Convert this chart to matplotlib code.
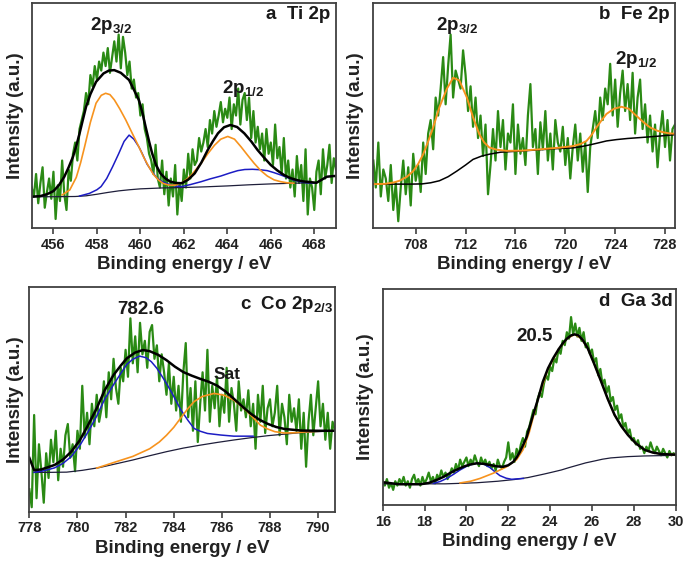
"""
XPS spectra of the four elements (Ti 2p, Fe 2p, Co 2p, Ga 3d)
raw counts in green, fitted components, Shirley background and envelope
"""

import numpy as np
import matplotlib
matplotlib.use("Agg")
import matplotlib.pyplot as plt

plt.rcParams["font.family"] = ["Liberation Sans", "DejaVu Sans"]
plt.rcParams["font.weight"] = "bold"
plt.rcParams["mathtext.fontset"] = "custom"
plt.rcParams["mathtext.rm"] = "Liberation Sans:bold"
plt.rcParams["mathtext.it"] = "Liberation Sans:bold"
plt.rcParams["mathtext.bf"] = "Liberation Sans:bold"

GREEN = "#2a8a14"
ORANGE = "#f7931e"
BLUE = "#1c1cc4"
NAVY = "#1e1e3a"
FRAME = "#404040"

# ---------------- a: Ti 2p ----------------
TI_START, TI_STEP = 455.0, 0.1
TI_COUNTS = [18, 14, 24, 11, 20, 27, 9, 16, 22, 13,
             25, 4, 19, 12, 30, 15, 8, 26, 21, 33,
             38, 30, 44, 48, 52, 60, 55, 68, 63, 72,
             66, 74, 70, 78, 72, 80, 69, 76, 83, 74,
             86, 71, 85, 78, 68, 74, 62, 66, 58, 60,
             50, 55, 44, 40, 33, 30, 24, 37, 22, 18,
             30, 15, 25, 10, 22, 14, 28, 6, 20, 12,
             26, 18, 33, 22, 35, 28, 30, 40, 34, 38,
             44, 36, 48, 42, 52, 45, 50, 56, 47, 53,
             49, 58, 44, 55, 50, 62, 46, 57, 60, 48,
             58, 40, 52, 38, 45, 35, 42, 30, 44, 33,
             38, 28, 46, 31, 36, 24, 40, 22, 30, 18,
             26, 14, 32, 20, 28, 12, 35, 6, 22, 18,
             8, 25, 30, 15, 35, 22, 28, 37, 20, 31,
             26]
TI_BG_E = [455.0, 456.0, 457.0, 457.5, 458.0, 458.5, 459.0, 459.5, 460.0,
           461.0, 462.0, 463.0, 464.0, 465.0, 466.0, 467.0, 468.1]
TI_BG_V = [13.9, 13.9, 14.0, 14.3, 15.0, 15.8, 16.5, 17.0, 17.4,
           17.8, 18.0, 18.3, 18.7, 19.2, 19.6, 19.9, 20.1]
TI_OR_E = [456.4, 456.75, 457.05, 457.25, 457.43, 457.7, 457.96, 458.2, 458.4,
           458.6, 458.8, 459.05, 459.33, 459.63, 459.93, 460.15, 460.39, 460.6,
           460.84, 461.05, 461.3, 461.6, 461.9, 462.15, 462.35, 462.6, 462.8,
           463.1, 463.41, 463.7, 464.02, 464.33, 464.63, 464.93, 465.23, 465.53,
           465.84, 466.15, 466.45, 466.75, 467.06]
TI_OR_V = [14.7, 16.9, 22.5, 29.0, 36.0, 47.0, 55.5, 59.0, 59.9,
           59.3, 57.0, 53.0, 48.0, 42.0, 36.1, 31.5, 27.2, 23.8,
           21.3, 19.8, 19.1, 19.0, 20.1, 21.8, 23.6, 26.5, 28.8,
           33.0, 36.8, 39.5, 40.7, 39.5, 36.1, 32.4, 28.8, 25.6,
           23.1, 21.4, 20.6, 20.1, 19.9]
TI_BL_E = [457.2, 457.66, 458.0, 458.19, 458.45, 458.72, 459.0, 459.25, 459.48,
           459.7, 459.93, 460.08, 460.3, 460.54, 460.75, 461.0, 461.3, 461.6,
           461.9, 462.3, 462.8, 463.2, 463.7, 464.1, 464.48, 464.8, 465.16,
           465.5, 465.84, 466.15, 466.45, 466.75, 467.06, 467.36, 467.67, 468.0]
TI_BL_V = [14.2, 15.4, 17.0, 18.4, 22.0, 27.2, 33.0, 38.5, 41.3,
           39.5, 36.1, 33.2, 28.5, 25.0, 22.3, 20.6, 19.4, 18.7,
           18.4, 19.3, 20.6, 21.8, 23.1, 24.4, 25.5, 26.0, 26.1,
           25.9, 25.5, 24.6, 23.6, 22.5, 21.3, 20.6, 20.1, 20.0]
TI_ENV_E = [455.0, 455.4, 455.7, 456.0, 456.25, 456.5, 456.7, 456.9, 457.05,
            457.2, 457.35, 457.5, 457.7, 457.96, 458.3, 458.55, 458.8, 459.1,
            459.48, 459.7, 459.93, 460.1, 460.24, 460.4, 460.54, 460.72, 460.92,
            461.15, 461.38, 461.65, 461.9, 462.2, 462.5, 462.8, 463.1, 463.35,
            463.57, 463.85, 464.14, 464.45, 464.78, 465.1, 465.39, 465.7, 466.0,
            466.3, 466.6, 466.9, 467.2, 467.5, 467.8, 468.1, 468.35, 468.58,
            468.9, 469.0]
TI_ENV_V = [13.9, 14.2, 15.0, 16.4, 19.0, 22.8, 27.0, 31.7, 36.5,
            42.0, 48.0, 53.9, 59.5, 65.0, 68.7, 70.0, 70.2, 69.0,
            65.8, 61.5, 56.9, 51.0, 45.0, 38.5, 33.2, 28.0, 24.3,
            22.0, 20.6, 20.0, 19.9, 21.5, 24.3, 29.0, 34.7, 38.8,
            42.1, 44.8, 45.8, 44.9, 42.1, 38.5, 34.7, 31.2, 28.0,
            25.6, 23.6, 22.2, 21.3, 20.7, 20.4, 20.1, 21.5, 22.8,
            23.1, 23.1]

# ---------------- b: Fe 2p ----------------
FE_START, FE_STEP = 704.6, 0.2
FE_COUNTS = [30, 18, 38, 14, 26, 22, 12, 28, 8, 20,
             3, 18, 30, 15, 27, 10, 33, 21, 28, 16,
             38, 24, 42, 48, 35, 58, 50, 62, 76, 55,
             72, 86, 58, 70, 66, 62, 79, 68, 52, 63,
             45, 58, 40, 50, 32, 46, 15, 28, 44, 30,
             52, 36, 48, 26, 42, 38, 55, 24, 46, 33,
             40, 28, 50, 64, 36, 44, 24, 47, 35, 52,
             30, 42, 26, 48, 38, 34, 45, 28, 40, 22,
             36, 46, 30, 42, 25, 38, 16, 36, 44, 52,
             40, 58, 48, 62, 55, 73, 50, 66, 45, 60,
             70, 52, 64, 48, 69, 42, 58, 66, 44, 55,
             38, 50, 34, 46, 27, 42, 52, 36, 48, 30,
             44, 46]
FE_BG_E = [704.6, 706.0, 707.5, 708.5, 709.2, 709.9, 710.6, 711.3, 712.0,
           712.6, 713.3, 713.9, 714.8, 715.7, 716.6, 718.0, 719.3, 720.6,
           721.3, 722.0, 722.7, 723.3, 724.1, 725.0, 726.0, 727.4, 728.8]
FE_BG_V = [19.5, 19.5, 19.5, 19.6, 20.1, 21.0, 22.8, 25.3, 28.0,
           30.5, 32.0, 32.8, 33.7, 34.0, 34.3, 34.8, 35.3, 35.6,
           36.2, 37.0, 37.9, 38.7, 39.3, 39.8, 40.2, 40.8, 41.5]
FE_FIT_E = [704.6, 705.5, 706.2, 706.7, 707.3, 707.8, 708.2, 708.6, 709.0,
            709.4, 709.9, 710.5, 711.0, 711.5, 712.1, 712.6, 713.1, 713.5,
            713.9, 714.5, 715.3, 716.5, 718.0, 719.5, 720.6, 721.2, 721.7,
            722.1, 722.5, 722.9, 723.3, 723.9, 724.5, 725.1, 725.7, 726.3,
            726.8, 727.4, 727.9, 728.3, 728.8]
FE_FIT_V = [19.5, 19.6, 20.2, 21.0, 22.8, 25.3, 28.5, 32.8, 38.5,
            44.7, 53.7, 61.9, 66.8, 65.6, 58.1, 49.2, 41.7, 38.0,
            35.8, 34.8, 34.3, 34.4, 35.0, 35.7, 36.4, 37.3, 38.7,
            41.3, 44.7, 47.8, 50.7, 53.0, 53.9, 53.0, 49.9, 46.9,
            44.7, 43.2, 42.5, 42.1, 41.9]

# ---------------- c: Co 2p ----------------
CO_START, CO_STEP = 778.0, 0.1
CO_COUNTS = [10, 2, 43, 6, 30, 18, 4, 26, 15, 32,
             22, 36, 14, 28, 20, 34, 39, 24, 30, 18,
             36, 28, 56, 33, 44, 30, 48, 38, 52, 40,
             46, 58, 42, 62, 50, 68, 55, 48, 64, 58,
             72, 60, 86, 66, 78, 62, 84, 70, 76, 64,
             80, 83, 68, 74, 58, 70, 62, 52, 66, 48,
             60, 45, 56, 40, 62, 75, 42, 55, 36, 58,
             31, 48, 62, 45, 72, 40, 56, 46, 60, 38,
             52, 44, 64, 40, 55, 48, 36, 58, 45, 50,
             42, 54, 38, 48, 28, 52, 40, 56, 35, 46,
             50, 38, 44, 56, 34, 48, 42, 30, 52, 40,
             46, 36, 50, 28, 44, 20, 40, 52, 34, 46,
             58, 38, 48, 32, 44, 28, 40, 36]
CO_BG_E = [778.2, 778.8, 779.55, 780.2, 780.9, 781.6, 782.3, 783.0, 783.7,
           784.4, 785.1, 785.8, 786.5, 787.2, 787.9, 788.6, 789.2, 790.0, 790.7]
CO_BG_V = [17.5, 17.5, 17.6, 18.4, 19.6, 21.3, 23.0, 24.9, 26.7,
           28.3, 29.6, 30.8, 31.9, 32.9, 33.8, 34.5, 35.1, 35.6, 36.0]
CO_SAT_E = [780.8, 781.6, 782.3, 783.0, 783.4, 783.7, 784.0, 784.3, 784.6,
            784.85, 785.2, 785.68, 786.1, 786.5, 786.8, 787.07, 787.35, 787.6,
            787.9, 788.2, 788.6, 789.0, 789.5, 790.0, 790.7]
CO_SAT_V = [19.4, 22.2, 24.6, 28.0, 31.0, 34.0, 37.5, 41.8, 46.0,
            49.0, 51.3, 52.6, 51.8, 49.6, 47.0, 44.4, 41.3, 38.5,
            36.8, 35.6, 35.0, 35.1, 35.5, 35.8, 36.0]
CO_MAIN_E = [778.2, 778.6, 779.05, 779.4, 779.74, 780.1, 780.44, 780.8, 781.13,
             781.5, 781.8, 782.05, 782.3, 782.58, 782.85, 783.07, 783.3, 783.48,
             783.7, 783.9, 784.1, 784.3, 784.6, 784.85, 785.1, 785.4, 785.96,
             786.5, 787.3]
CO_MAIN_V = [17.5, 18.2, 19.5, 21.5, 24.5, 29.5, 35.5, 42.5, 50.0,
             56.5, 61.5, 65.5, 67.8, 69.2, 68.5, 66.7, 63.8, 60.8,
             57.0, 53.3, 49.3, 45.2, 40.5, 37.0, 35.8, 34.8, 34.1,
             33.6, 33.6]
CO_ENV_E = [778.0, 778.2, 778.5, 779.05, 779.4, 779.74, 780.1, 780.44, 780.8,
            781.13, 781.5, 781.8, 782.05, 782.4, 782.72, 783.0, 783.35, 783.7,
            784.05, 784.4, 784.75, 785.1, 785.45, 785.8, 786.15, 786.5, 786.85,
            787.2, 787.55, 787.9, 788.25, 788.6, 789.3, 790.0, 790.7]
CO_ENV_V = [24.0, 18.5, 18.8, 20.8, 23.2, 26.7, 31.8, 38.5, 46.0,
            54.0, 60.8, 65.0, 68.2, 70.8, 71.9, 71.4, 69.8, 67.4,
            64.5, 62.1, 60.5, 59.1, 57.8, 56.1, 53.5, 50.2, 46.8,
            43.6, 41.0, 39.1, 37.7, 36.8, 36.1, 36.0, 36.0]

# ---------------- d: Ga 3d ----------------
GA_START, GA_STEP = 16.0, 0.1
GA_COUNTS = [11, 9, 12, 8, 10, 7, 11, 9, 12, 10,
             13, 9, 11, 8, 12, 14, 10, 12, 9, 13,
             10, 12, 15, 11, 13, 10, 14, 12, 16, 13,
             15, 12, 14, 17, 15, 19, 16, 21, 18, 20,
             22, 18, 21, 19, 23, 20, 18, 22, 19, 21,
             18, 20, 17, 19, 16, 21, 18, 17, 20, 22,
             29, 21, 24, 20, 26, 23, 28, 31, 27, 34,
             36, 40, 44, 42, 49, 52, 50, 56, 60, 58,
             64, 62, 68, 66, 72, 70, 76, 74, 80, 77,
             87, 79, 84, 78, 82, 76, 80, 73, 75, 70,
             72, 66, 68, 60, 63, 56, 58, 52, 55, 48,
             50, 44, 46, 40, 42, 36, 38, 33, 35, 30,
             31, 28, 30, 26, 27, 24, 27, 25, 29, 26,
             24, 27, 25, 23, 26, 24, 22, 25, 23, 24,
             23]
GA_BG_E = [16.0, 19.0, 20.5, 21.5, 22.3, 22.94, 23.7, 24.1, 24.53, 24.9,
           25.3, 25.7, 26.13, 26.5, 26.9, 27.72, 28.5, 30.0]
GA_BG_V = [9.8, 9.8, 10.3, 11.0, 11.8, 12.7, 14.3, 15.2, 16.2, 17.3,
           18.4, 19.5, 20.4, 21.2, 21.8, 22.4, 22.7, 23.0]
GA_SMALL_E = [18.42, 18.75, 19.06, 19.4, 19.69, 20.1, 20.49, 20.85, 21.13,
              21.35, 21.6, 21.9, 22.16, 22.72]
GA_SMALL_V = [10.0, 10.9, 12.3, 14.3, 16.2, 18.4, 19.3, 18.8, 17.3,
              15.5, 13.6, 12.4, 11.9, 12.3]
GA_MAIN_E = [19.7, 20.2, 20.65, 21.28, 21.92, 22.4, 22.7, 23.0, 23.42, 23.9,
             24.4, 24.8, 25.17, 25.5, 25.8, 26.1, 26.44, 26.75, 27.08, 27.4,
             27.72, 28.1, 28.52, 28.9, 29.3, 30.0]
GA_MAIN_V = [10.2, 11.0, 12.3, 14.7, 17.7, 21.0, 25.5, 33.5, 49.0, 63.0,
             72.0, 77.0, 79.0, 77.0, 72.5, 65.5, 57.1, 49.2, 41.7, 36.5,
             32.4, 28.5, 25.5, 24.3, 23.6, 23.3]
GA_ENV_E = [16.03, 16.8, 17.8, 18.2, 18.58, 18.9, 19.2, 19.5, 19.85, 20.15,
            20.49, 20.8, 21.13, 21.45, 21.76, 22.0, 22.24, 22.4, 22.56, 22.72,
            22.88, 23.15, 23.42, 23.65, 23.9, 24.15, 24.4, 24.6, 24.8, 25.0,
            25.17, 25.35, 25.55, 25.8, 26.1, 26.44, 26.75, 27.08, 27.4, 27.72,
            28.1, 28.52, 28.9, 29.3, 30.0]
GA_ENV_V = [10.5, 9.6, 9.6, 10.2, 11.6, 13.0, 14.7, 16.2, 17.7, 18.7,
            19.3, 19.1, 18.5, 17.9, 17.7, 18.4, 20.0, 22.0, 24.7, 28.0,
            31.5, 40.5, 49.0, 57.0, 63.3, 68.0, 72.0, 74.8, 77.0, 78.5,
            79.0, 78.5, 76.5, 72.5, 65.5, 57.1, 49.2, 41.7, 36.5, 32.4,
            28.5, 25.5, 24.3, 23.6, 23.3]


def energy_axis(start, step, counts):
    return np.round(start + step * np.arange(len(counts)), 3)


def setup_axes(ax, xlim, xticks, ylabel_pad):
    ax.set_xlim(*xlim)
    ax.set_ylim(0, 100)
    ax.set_xticks(xticks)
    ax.set_yticks([])
    ax.tick_params(axis="x", direction="out", length=4, width=1.2,
                   labelsize=10.5, colors=FRAME, labelcolor="#222222", pad=3)
    for lab in ax.get_xticklabels():
        lab.set_fontweight("bold")
    for sp in ax.spines.values():
        sp.set_color(FRAME)
        sp.set_linewidth(1.3)
    ax.set_xlabel("Binding energy / eV", fontsize=13.5, fontweight="bold",
                  color="#222222", labelpad=3)
    ax.set_ylabel("Intensity (a.u.)", fontsize=13.5, fontweight="bold",
                  color="#222222", labelpad=ylabel_pad)


def tag(ax, text, x, y, size=13.5, **kw):
    ax.text(x, y, text, fontsize=size, fontweight="bold", color="#1a1a1a", **kw)


fig = plt.figure(figsize=(6.85, 5.65), dpi=100)

# a: Ti 2p
ax = fig.add_axes([0.0463, 0.5965, 0.4442, 0.398])
ax.plot(energy_axis(TI_START, TI_STEP, TI_COUNTS), TI_COUNTS, color=GREEN, lw=1.6)
ax.plot(TI_BG_E, TI_BG_V, color=NAVY, lw=0.9)
ax.plot(TI_BL_E, TI_BL_V, color=BLUE, lw=1.1)
ax.plot(TI_OR_E, TI_OR_V, color=ORANGE, lw=1.2)
ax.plot(TI_ENV_E, TI_ENV_V, color="black", lw=1.8)
setup_axes(ax, (455, 469), [456, 458, 460, 462, 464, 466, 468], 5.5)
tag(ax, "2p$_{3/2}$", 458.66, 90, ha="center", va="center")
tag(ax, "2p$_{1/2}$", 464.7, 62, ha="center", va="center")
tag(ax, "a  Ti 2p", 0.98, 0.95, ha="right", va="center", transform=ax.transAxes)

# b: Fe 2p
ax = fig.add_axes([0.545, 0.5965, 0.4404, 0.398])
ax.plot(energy_axis(FE_START, FE_STEP, FE_COUNTS), FE_COUNTS, color=GREEN, lw=1.6)
ax.plot(FE_BG_E, FE_BG_V, color="black", lw=1.1)
ax.plot(FE_FIT_E, FE_FIT_V, color=ORANGE, lw=1.4)
setup_axes(ax, (704.6, 728.8), [708, 712, 716, 720, 724, 728], 6.5)
tag(ax, "2p$_{3/2}$", 711.3, 90, ha="center", va="center")
tag(ax, "2p$_{1/2}$", 725.7, 75, ha="center", va="center")
tag(ax, "b  Fe 2p", 0.983, 0.95, ha="right", va="center", transform=ax.transAxes)

# c: Co 2p
ax = fig.add_axes([0.0428, 0.0943, 0.4462, 0.398])
ax.plot(energy_axis(CO_START, CO_STEP, CO_COUNTS), CO_COUNTS, color=GREEN, lw=1.6)
ax.plot(CO_BG_E, CO_BG_V, color=NAVY, lw=0.9)
ax.plot(CO_MAIN_E, CO_MAIN_V, color=BLUE, lw=1.1)
ax.plot(CO_SAT_E, CO_SAT_V, color=ORANGE, lw=1.2)
ax.plot(CO_ENV_E, CO_ENV_V, color="black", lw=1.8)
setup_axes(ax, (778, 790.7), [778, 780, 782, 784, 786, 788, 790], 3.5)
tag(ax, "782.6", 782.64, 90, ha="center", va="center")
tag(ax, "Sat", 786.2, 61, size=12.5, ha="center", va="center")
tag(ax, "c  Co 2p$_{2/3}$", 0.995, 0.92, ha="right", va="center",
    transform=ax.transAxes)

# d: Ga 3d
ax = fig.add_axes([0.5587, 0.1062, 0.4277, 0.3823])
ax.plot(energy_axis(GA_START, GA_STEP, GA_COUNTS), GA_COUNTS, color=GREEN, lw=1.6)
ax.plot(GA_BG_E, GA_BG_V, color=NAVY, lw=0.9)
ax.plot(GA_SMALL_E, GA_SMALL_V, color=BLUE, lw=1.1)
ax.plot(GA_MAIN_E, GA_MAIN_V, color=ORANGE, lw=1.2)
ax.plot(GA_ENV_E, GA_ENV_V, color="black", lw=1.8)
setup_axes(ax, (16, 30), [16, 18, 20, 22, 24, 26, 28, 30], 6.5)
tag(ax, "20.5", 23.28, 78, ha="center", va="center")
tag(ax, "d  Ga 3d", 0.99, 0.94, ha="right", va="center", transform=ax.transAxes)

fig.savefig("out.png", dpi=100)
plt.close(fig)
